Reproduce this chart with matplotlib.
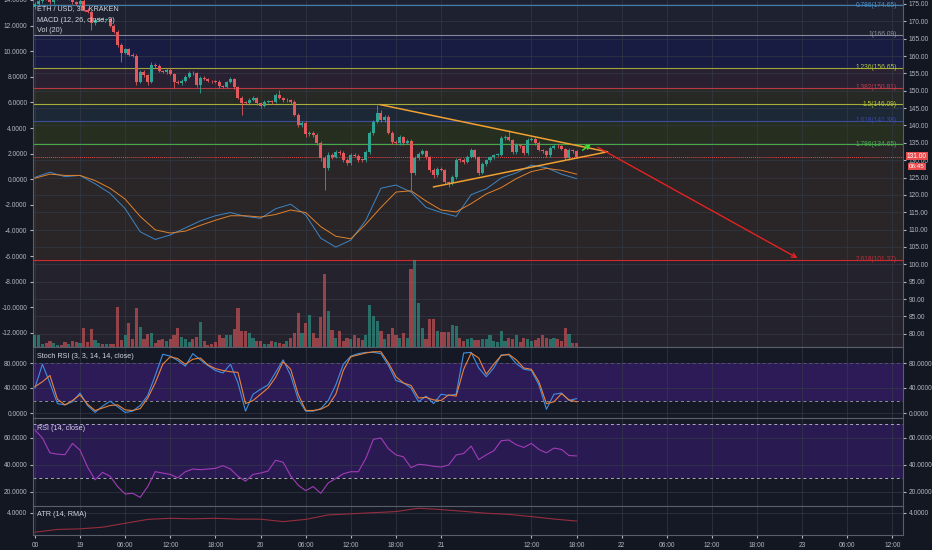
import numpy as np
import matplotlib.pyplot as plt
from matplotlib.ticker import FormatStrFormatter

plt.rcParams['font.family'] = ['Liberation Sans', 'DejaVu Sans']

BG = '#131722'
TXT = '#b2b5be'
GRID = '#343845'
EDGE = '#5a5e6a'
UP = '#2ea391'
DOWN = '#e2585c'

# 30 min candles, x axis in hours from the 18th 18:00
first_open = 174.0
closes = [
    175.0, 176.0, 177.0, 176.5, 175.5, 176.5, 177.5, 177.0, 176.8, 177.2,
    175.5, 175.0, 176.0, 173.4, 172.8, 169.5, 170.3, 170.8, 170.5, 170.6,
    168.8, 167.0, 163.3, 161.0, 161.9, 160.4, 159.9, 152.6, 155.5, 154.5,
    152.6, 157.5, 157.2, 155.8, 155.5, 156.1, 154.9, 152.6, 152.3, 152.9,
    154.0, 155.2, 155.0, 151.7, 153.8, 153.5, 152.8, 152.7, 152.6, 151.5,
    151.2, 152.4, 153.4, 151.0, 148.0, 146.6, 146.5, 147.4, 148.0, 146.4,
    145.6, 146.8, 146.9, 146.8, 148.8, 147.9, 147.2, 147.4, 146.9, 143.1,
    140.2, 140.8, 137.4, 137.9, 137.3, 135.0, 130.6, 127.7, 131.5, 130.9,
    132.4, 132.1, 130.1, 129.2, 131.5, 131.3, 130.1, 130.0, 132.4, 137.9,
    141.0, 143.6, 141.6, 142.5, 137.9, 135.3, 135.0, 136.7, 135.0, 135.5,
    126.3, 130.6, 131.8, 132.6, 130.9, 127.2, 125.7, 127.5, 127.2, 123.7,
    123.4, 125.1, 130.1, 130.0, 129.5, 130.9, 132.9, 130.9, 126.3, 128.9,
    130.0, 130.8, 131.5, 131.6, 136.4, 136.7, 135.8, 132.4, 134.4, 134.0,
    132.1, 135.8, 136.2, 135.0, 133.0, 132.6, 131.5, 133.5, 134.2, 134.0,
    133.2, 130.6, 132.9, 132.5, 131.0,
]
wick_up = [
    0.5, 0.6, 0.4, 0.5, 0.6, 0.4, 0.5, 0.3, 0.4, 0.5,
    0.6, 0.4, 0.5, 1.0, 0.4, 0.5, 0.6, 0.4, 0.5, 0.3,
    0.4, 0.5, 0.6, 0.4, 0.5, 0.3, 0.4, 0.8, 0.5, 0.4,
    0.3, 0.7, 0.4, 0.5, 0.3, 0.4, 0.6, 0.3, 0.4, 0.5,
    0.4, 0.6, 0.5, 0.3, 0.5, 0.4, 0.3, 0.4, 0.3, 0.4,
    0.3, 0.5, 0.6, 0.4, 0.3, 0.4, 0.5, 0.4, 0.6, 0.3,
    0.4, 0.5, 0.3, 0.4, 0.6, 1.5, 0.4, 0.5, 0.3, 0.4,
    0.6, 0.5, 0.4, 0.6, 0.5, 0.4, 0.5, 0.6, 0.8, 0.5,
    0.6, 0.4, 0.5, 0.4, 0.6, 0.5, 0.4, 0.3, 0.5, 0.6,
    0.7, 2.4, 0.8, 0.6, 0.5, 0.4, 0.6, 0.5, 0.4, 0.6,
    0.5, 0.7, 0.6, 0.5, 0.4, 0.3, 0.5, 0.6, 0.4, 0.3,
    0.4, 0.5, 0.6, 0.4, 0.5, 0.6, 0.5, 0.4, 0.3, 0.5,
    0.4, 0.5, 0.3, 0.4, 0.7, 0.5, 2.0, 0.4, 0.5, 0.4,
    0.3, 0.6, 0.5, 0.4, 0.5, 0.3, 0.4, 0.5, 0.6, 0.4,
    0.5, 0.3, 0.5, 0.4, 0.3,
]
wick_dn = [
    0.4, 0.5, 0.6, 0.4, 0.5, 0.4, 0.3, 0.5, 0.4, 0.6,
    0.5, 0.4, 0.6, 0.5, 0.4, 1.9, 0.5, 0.3, 0.4, 0.5,
    0.5, 0.4, 0.6, 2.6, 0.4, 0.5, 0.3, 0.9, 0.4, 0.5,
    0.9, 0.4, 0.5, 0.3, 0.4, 0.6, 0.5, 1.7, 0.4, 0.5,
    0.3, 0.4, 0.5, 0.5, 2.3, 0.4, 0.3, 0.5, 0.4, 0.6,
    0.4, 0.5, 0.3, 0.6, 0.5, 3.5, 0.4, 0.5, 0.3, 0.6,
    0.5, 0.4, 0.3, 0.5, 0.4, 0.3, 0.5, 0.4, 0.6, 0.5,
    0.6, 0.5, 0.7, 0.4, 0.6, 0.5, 0.8, 6.3, 0.5, 0.6,
    0.4, 0.5, 0.6, 0.7, 0.5, 0.4, 0.6, 0.5, 0.4, 0.5,
    0.6, 0.4, 0.5, 0.6, 0.5, 0.7, 0.4, 0.5, 0.6, 0.4,
    4.9, 0.6, 0.5, 0.4, 0.5, 0.6, 0.8, 0.5, 0.4, 0.6,
    1.1, 0.5, 0.4, 0.6, 0.5, 0.4, 0.3, 0.5, 0.6, 0.4,
    0.5, 0.4, 0.6, 0.3, 0.4, 0.5, 0.4, 0.6, 0.5, 0.4,
    0.6, 0.5, 0.4, 0.5, 0.3, 0.4, 0.6, 0.5, 0.4, 0.5,
    0.4, 0.6, 0.5, 0.4, 0.5,
]
# bar heights (the volume scale is hidden)
volume = [
    12, 12, 3, 4, 6, 4, 2, 2, 5, 3,
    6, 5, 4, 19.5, 5, 18.5, 7, 4, 3, 3,
    3, 3, 40, 7, 12, 24, 8, 39, 20.5, 8,
    13, 14.5, 4, 7, 8, 6, 8, 12, 19.5, 10,
    8, 5, 8, 10, 25, 6, 2, 3, 5, 12,
    9, 12, 12, 18, 39, 16, 16, 14.5, 9, 6,
    6, 3, 3, 6, 5, 4, 3, 6, 9, 14.5,
    34, 14.5, 24, 32, 14.5, 9, 30, 73, 36, 17,
    9, 16, 6, 9, 8, 12, 9, 7, 12, 42,
    31, 26, 16, 8, 13, 19.5, 12, 9, 14, 9,
    78, 87.5, 44, 19.5, 8, 28, 28, 16, 15, 15,
    15, 22, 21, 9, 6, 8, 9, 7, 7, 8,
    8, 12, 6, 5, 16, 6, 9, 8, 12, 5,
    9, 8, 6, 7, 9, 12, 9, 8, 9, 8,
    6, 19.5, 13, 4, 4,
]

macd_hours = list(range(0, 73, 2))
macd_line = [0.15, 0.55, 0.2, 0.3, -0.35, -1.1, -2.3, -4.1, -4.7, -4.35,
             -3.8, -3.25, -2.85, -2.6, -2.9, -3.05, -2.3, -1.95, -2.8, -4.6,
             -5.3, -4.75, -3.2, -0.7, -0.45, -1.0, -2.2, -2.6, -2.9, -1.2,
             -0.75, 0.1, 0.5, 1.1, 0.9, 0.4, 0.05]
signal_line = [0.08, 0.4, 0.3, 0.3, -0.1, -0.7, -1.55, -2.9, -3.95, -4.2,
               -4.05, -3.6, -3.2, -2.85, -2.85, -2.95, -2.75, -2.4, -2.6, -3.7,
               -4.45, -4.65, -3.5, -2.2, -1.0, -0.9, -1.7, -2.4, -2.55, -1.9,
               -1.15, -0.65, 0.05, 0.6, 0.85, 0.7, 0.4]

osc_hours = list(range(0, 73))
stoch_k = [40, 78, 48, 15, 13, 18, 32, 12, 1, 11,
           19, 10, 1, 3, 12, 28, 60, 94, 91, 84,
           75, 95, 85, 76, 68, 64, 78, 48, 3, 30,
           38, 45, 65, 85, 60, 22, 3, 3, 7, 20,
           45, 78, 91, 95, 97, 97, 95, 76, 52, 48,
           40, 18, 27, 15, 30, 28, 30, 96, 97, 72,
           58, 72, 93, 93, 79, 70, 68, 45, 6, 30,
           32, 20, 23]
stoch_d = [42, 50, 60, 22, 13, 20, 29, 14, 4, 8,
           12, 13, 5, 4, 7, 24, 48, 78, 90, 87,
           78, 86, 88, 77, 71, 68, 66, 65, 15, 20,
           30, 40, 57, 82, 70, 30, 4, 4, 6, 12,
           30, 68, 90, 93, 96, 98, 98, 80, 58, 48,
           44, 24, 25, 21, 20, 29, 27, 70, 96, 88,
           62, 78, 92, 94, 85, 72, 70, 50, 15, 18,
           31, 21, 18]
rsi = [66, 60, 49, 48, 47.6, 56, 51, 38.5, 29, 34.5,
       31.6, 24, 18.5, 19, 16, 24, 35, 34, 33, 30.5,
       35, 37, 36.5, 37, 37.5, 39.5, 37, 31.6, 28, 33,
       34, 35.5, 43.5, 42, 32, 25, 21, 24, 19, 26.7,
       30, 33.5, 35, 35, 45, 59, 60, 52, 47.5, 46,
       38, 40.5, 40, 39, 38.5, 40, 47.4, 48.5, 54, 44,
       47.5, 50.5, 58, 58.5, 55, 53, 56, 51.5, 49, 52.5,
       51.5, 47, 46.7]

atr_hours = list(range(0, 73, 3))
atr = [2.25, 2.5, 2.55, 2.7, 3.05, 3.4, 3.5, 3.45, 3.5, 3.42,
       3.42, 3.2, 3.4, 3.8, 3.9, 4.0, 4.1, 4.4, 4.28, 4.12,
       3.95, 3.85, 3.65, 3.43, 3.25]

fib_ratios = ['0.786', '1', '1.236', '1.382', '1.5', '1.618', '1.786', '2.618']
fib_prices = [174.65, 166.09, 156.65, 150.81, 146.09, 141.38, 134.65, 101.37]
fib_line_colors = ['#3e7fae', '#868993', '#9ea63a', '#b83a44',
                   '#a6ad3a', '#3a4f9a', '#46a846', '#d02a30']
fib_text_colors = ['#4a90c8', '#8f929c', '#b5c43d', '#c23a4e',
                   '#b8c83a', '#3848a8', '#4caf50', '#c0303e']
zone_colors = ['#1d2030', '#1e2130', '#181b42', '#292132', '#272925',
               '#1d2836', '#262e20', '#2a2526', '#24232d']

last_price = 131.0
triangle_upper = ([45.9, 76.1], [146.0, 132.4])
triangle_lower = ([53.0, 76.1], [122.3, 132.4])
arrow_down = ((74.5, 134.1), (101.7, 101.4))
arrow_up = ((72.5, 132.4), (74.2, 135.0))

tick_hours = [0, 6, 12, 18, 24, 30, 36, 42, 48, 54, 66, 72, 78, 84, 90, 96, 102, 108, 114]
tick_labels = ['00', '19', '06:00', '12:00', '18:00', '20', '06:00', '12:00', '18:00',
               '21', '12:00', '18:00', '22', '06:00', '12:00', '18:00', '23', '06:00', '12:00']

W, H = 932, 550
fig = plt.figure(figsize=(W / 100, H / 100), dpi=100, facecolor=BG)


def panel(top, bottom, **kw):
    return fig.add_axes([33 / W, 1 - bottom / H, 870 / W, (bottom - top) / H], **kw)


def style(a, ticks, fmt, both=True):
    a.set_yticks(ticks)
    a.yaxis.set_major_formatter(FormatStrFormatter(fmt))
    a.tick_params(axis='y', left=True, right=both, labelleft=True, labelright=both,
                  colors=TXT, labelsize=4.8, length=2, pad=2)
    a.tick_params(axis='x', bottom=False, labelbottom=False)
    for s in a.spines.values():
        s.set_color(EDGE)
        s.set_linewidth(0.8)
    a.grid(color=GRID, lw=0.5)
    a.set_axisbelow(True)


# main price panel
ax = panel(0, 347)
ax.set_facecolor(zone_colors[0])
ax.set_xlim(-0.25, 115.4)
ax.set_ylim(76.17, 176.15)
ax.set_xticks(tick_hours)
style(ax, np.arange(80, 176, 5), '%.2f')
ax.tick_params(axis='y', left=False, labelleft=False)
ax.spines['top'].set_visible(False)

bounds = [176.15] + fib_prices + [76.17]
for top, bot, col in zip(bounds[:-1], bounds[1:], zone_colors):
    ax.axhspan(bot, top, color=col, lw=0, zorder=0.1)
for r, p, lc, tc in zip(fib_ratios, fib_prices, fib_line_colors, fib_text_colors):
    ax.axhline(p, color=lc, lw=0.8, zorder=1)
    ax.text(114.6, p, f'{r}({p:.2f})', color=tc, fontsize=4.8, ha='right', va='center', zorder=1)
ax.axhline(last_price, color='#e04a4a', lw=0.7, ls=(0, (1, 1)), zorder=1)

ax_v = panel(0, 347, sharex=ax)
ax_v.set_ylim(0, 347)
ax_v.axis('off')
ax_v.patch.set_visible(False)

ax_m = panel(0, 347, sharex=ax)
ax_m.set_ylim(-13.1, 14.0)
ax_m.patch.set_visible(False)
ax_m.set_yticks(np.arange(-12, 15, 2))
ax_m.yaxis.set_major_formatter(FormatStrFormatter('%.4f'))
ax_m.tick_params(axis='y', colors=TXT, labelsize=4.8, length=2, pad=2)
ax_m.tick_params(axis='x', bottom=False, labelbottom=False)
for s in ax_m.spines.values():
    s.set_visible(False)

ax_c = panel(0, 347, sharex=ax, sharey=ax)
ax_c.axis('off')
ax_c.patch.set_visible(False)

x = np.arange(len(closes)) * 0.5
c = np.array(closes)
o = np.r_[first_open, c[:-1]]
cols = np.where(c >= o, UP, DOWN)
ax_v.bar(x, volume, width=0.42, color=cols, alpha=0.6, lw=0)
ax_m.plot(macd_hours, macd_line, color='#3d85c6', lw=0.7)
ax_m.plot(macd_hours, signal_line, color='#e0822e', lw=0.7)
ax_c.vlines(x, np.minimum(o, c) - wick_dn, np.maximum(o, c) + wick_up, colors=cols, lw=0.6)
ax_c.bar(x, np.maximum(np.abs(c - o), 0.2), bottom=np.minimum(o, c), width=0.4, color=cols, lw=0)

ax_c.plot(*triangle_upper, color='#f0a030', lw=1.1)
ax_c.plot(*triangle_lower, color='#f0a030', lw=1.1)
ax_c.annotate('', xy=arrow_down[1], xytext=arrow_down[0],
              arrowprops=dict(arrowstyle='->', color='#e52222', lw=1.0, mutation_scale=8))
ax_c.annotate('', xy=arrow_up[1], xytext=arrow_up[0],
              arrowprops=dict(arrowstyle='->', color='#33e633', lw=1.0, mutation_scale=7))

# stoch rsi
ax_s = panel(347, 418, sharex=ax)
ax_s.set_facecolor('#151925')
ax_s.set_ylim(-8.0, 105.6)
style(ax_s, [0, 40, 80], '%.4f')
ax_s.axhspan(20, 80, color='#2d1b58', lw=0, zorder=0.1)
ax_s.axhline(20, color='#8b8e99', lw=0.7, ls=(0, (3, 3)))
ax_s.axhline(80, color='#5a4d80', lw=0.7, ls=(0, (3, 3)))
ax_s.plot(osc_hours, stoch_k, color='#3d8fe0', lw=0.8)
ax_s.plot(osc_hours, stoch_d, color='#e8833a', lw=0.8)

# rsi
ax_r = panel(418, 506, sharex=ax)
ax_r.set_facecolor('#151925')
ax_r.set_ylim(9.6, 74.8)
style(ax_r, [20, 40, 60], '%.4f')
ax_r.axhspan(30, 70, color='#2a1a52', lw=0, zorder=0.1)
ax_r.axhline(70, color='#a8abb6', lw=0.7, ls=(0, (3, 3)))
ax_r.axhline(30, color='#a8abb6', lw=0.7, ls=(0, (3, 3)))
ax_r.plot(osc_hours, rsi, color='#a03cb8', lw=0.8)

# atr
ax_a = panel(506, 535, sharex=ax)
ax_a.set_facecolor('#151925')
ax_a.set_ylim(2.0, 4.6)
style(ax_a, [4.0], '%.4f')
ax_a.plot(atr_hours, atr, color='#962d3e', lw=0.8)
ax_a.tick_params(axis='x', bottom=True, labelbottom=True, colors=TXT, labelsize=4.8, length=2, pad=3)
ax_a.set_xticklabels(tick_labels)

head = dict(color='#d1d4dc', fontsize=5.2, va='center', zorder=10)
fig.text(37 / W, 1 - 9 / H, 'ETH / USD, 30, KRAKEN', **head)
fig.text(37 / W, 1 - 20 / H, 'MACD (12, 26, close, 9)', **head)
fig.text(37 / W, 1 - 31 / H, 'Vol (20)', **head)
fig.text(37 / W, 1 - 357 / H, 'Stoch RSI (3, 3, 14, 14, close)', **head)
fig.text(37 / W, 1 - 428 / H, 'RSI (14, close)', **head)
fig.text(37 / W, 1 - 515 / H, 'ATR (14, RMA)', **head)

box = dict(boxstyle='square,pad=0.12', fc='#e84c4c', ec='none')
fig.text(917 / W, 1 - 156 / H, f'{last_price:.2f}', color='white', fontsize=4.8,
         ha='center', va='center', bbox=box, zorder=10)
fig.text(917 / W, 1 - 166.5 / H, '06:45', color='white', fontsize=4.5,
         ha='center', va='center', bbox=box, zorder=10)

fig.savefig('out.png', dpi=100, facecolor=BG)
